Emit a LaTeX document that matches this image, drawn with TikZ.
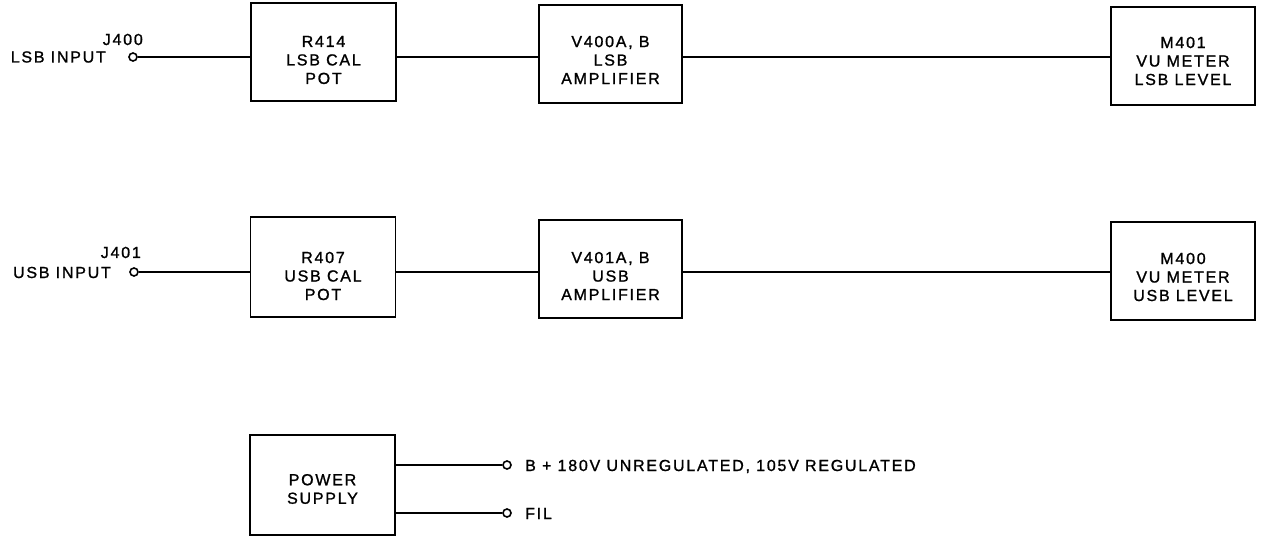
\documentclass[tikz,border=0pt]{standalone}
\usepackage{fontspec}
\setmainfont{Liberation Sans}[LetterSpace=11,FakeBold=1.2]
\begin{document}
\begin{tikzpicture}[x=1pt,y=-1pt,
  box/.style={draw, line width=1.9pt, minimum width=145pt, minimum height=98pt, inner sep=0pt},
  lbl/.style={align=center, inner sep=0pt, font=\fontsize{16}{18.5}\selectfont},
  txt/.style={inner sep=0pt, font=\fontsize{16}{18.5}\selectfont},
  jack/.style={circle, draw, line width=1.6pt, minimum size=8pt, inner sep=0pt},
  wire/.style={line width=1.7pt}]
\useasboundingbox (0,0) rectangle (1265,537);
% boxes
\node[box] (r414) at (323.5,52) {};
\node[box, minimum width=143pt] (v400) at (610.5,54) {};
\node[box, minimum width=144pt] (m401) at (1183,56) {};
\node[box, minimum height=100pt] (r407) at (323,267) {};
\node[box, minimum width=143pt] (v401) at (610.5,269) {};
\node[box, minimum width=144pt] (m400) at (1183,271) {};
\node[box, minimum height=100pt] (ps) at (322.5,485) {};
% box labels
\node[lbl] (r414t) at ([yshift=-8pt]r414.center) {R414\\LSB CAL\\POT};
\node[lbl] (v400t) at ([yshift=-6pt]v400.center) {V400A, B\\LSB\\AMPLIFIER};
\node[lbl] (m401t) at ([yshift=-5pt]m401.center) {M401\\VU METER\\LSB LEVEL};
\node[lbl] (r407t) at ([yshift=-9pt]r407.center) {R407\\USB CAL\\POT};
\node[lbl] (v401t) at ([yshift=-7pt]v401.center) {V401A, B\\USB\\AMPLIFIER};
\node[lbl] (m400t) at ([yshift=-6pt]m400.center) {M400\\VU METER\\USB LEVEL};
\node[lbl] (pst) at ([yshift=-4pt]ps.center) {POWER\\SUPPLY};
% jacks
\node[jack] (j400) at (133,57) {};
\node[jack] (j401) at (134,272) {};
\node[jack] (bplus) at (507,465) {};
\node[jack] (fil) at (507,513) {};
% jack labels
\node[txt, anchor=base east] (j400t) at (143,45) {J400};
\node[txt, anchor=base east] (lsbin) at (106,62.5) {LSB INPUT};
\node[txt, anchor=base east] (j401t) at (141,258) {J401};
\node[txt, anchor=base east] (usbin) at (111,278) {USB INPUT};
\node[txt, anchor=base west] (bplust) at (525,471) {B + 180V UNREGULATED, 105V REGULATED};
\node[txt, anchor=base west] (filt) at (525,519) {FIL};
% wires
\draw[wire] (j400.east) -- (j400.east -| r414.west);
\draw[wire] (r414.east |- j400) -- (v400.west |- j400);
\draw[wire] (v400.east |- j400) -- (m401.west |- j400);
\draw[wire] (j401.east) -- (j401.east -| r407.west);
\draw[wire] (r407.east |- j401) -- (v401.west |- j401);
\draw[wire] (v401.east |- j401) -- (m400.west |- j401);
\draw[wire] (ps.east |- bplus) -- (bplus.west);
\draw[wire] (ps.east |- fil) -- (fil.west);
\end{tikzpicture}
\end{document}
